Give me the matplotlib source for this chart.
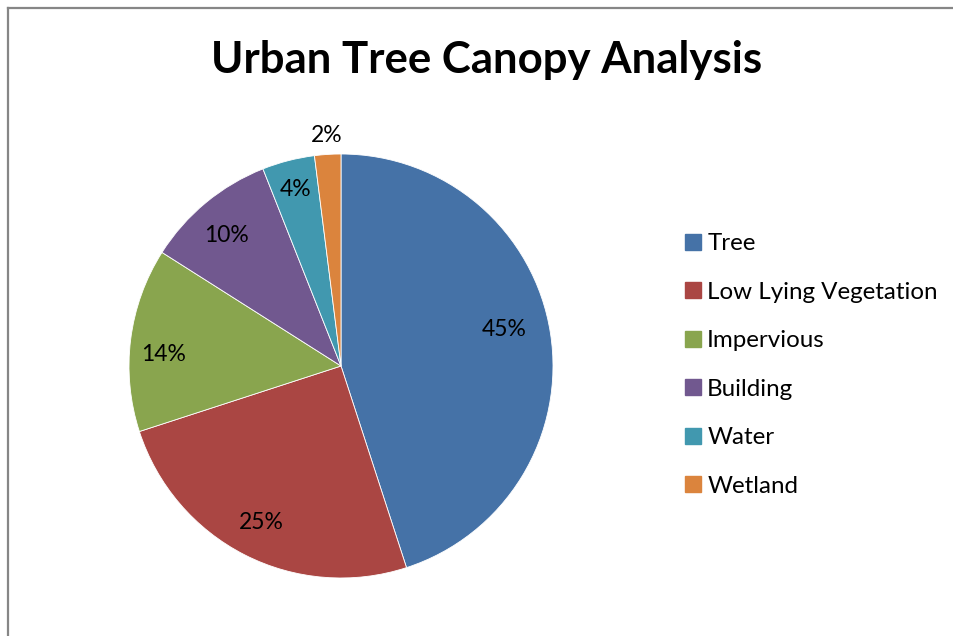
import numpy as np
import matplotlib.pyplot as plt
from matplotlib.lines import Line2D

plt.rcParams['font.family'] = ['Lato', 'DejaVu Sans']

categories = ["Tree", "Low Lying Vegetation", "Impervious", "Building", "Water", "Wetland"]
shares = [45, 25, 14, 10, 4, 2]
colors = ["#4572A7", "#AA4643", "#89A54E", "#71588F", "#4198AF", "#DB843D"]

W, H = 954, 636
fig = plt.figure(figsize=(W / 100, H / 100), dpi=100)

# pie centre and radius in pixels
cx, cy, r = 341, 366, 212
ax = fig.add_axes([(cx - r) / W, (H - cy - r) / H, 2 * r / W, 2 * r / H])

wedges, texts = ax.pie(
    shares, colors=colors, startangle=90, counterclock=False, radius=1,
    wedgeprops=dict(edgecolor="white", linewidth=0.6),
)
ax.set_xlim(-1, 1)
ax.set_ylim(-1, 1)
ax.set_aspect("equal")
ax.axis("off")

# percentage labels (excel "best fit" spots, slightly off the wedge middles)
dist = [0.79, 0.83, 0.84, 0.82, 0.86, 1.09]
shift = [3.5, 0, 3.5, 1.5, 0, 0]
for w, s, d, sh in zip(wedges, shares, dist, shift):
    mid = np.deg2rad((w.theta1 + w.theta2) / 2 + sh)
    ax.text(d * np.cos(mid), d * np.sin(mid), f"{s}%", ha="center", va="center",
            fontsize=16.5, color="black")

fig.text(487 / W, 1 - 60 / H, "Urban Tree Canopy Analysis", ha="center", va="center",
         fontsize=31.5, fontweight="bold")

handles = [Line2D([], [], marker="s", linestyle="", markersize=11,
                  markerfacecolor=c, markeredgecolor=c) for c in colors]
fig.legend(handles, categories, loc="center left", bbox_to_anchor=(671 / W, 1 - 365 / H),
           frameon=False, fontsize=17.4, handletextpad=0.1, labelspacing=1.14,
           handlelength=1.0, borderaxespad=0)

# chart border (left and top)
fig.add_artist(Line2D([8.5 / W, 8.5 / W], [0, 1 - 8 / H], color="#868686", linewidth=1.6))
fig.add_artist(Line2D([8 / W, 1], [1 - 8 / H, 1 - 8 / H], color="#868686", linewidth=1.6))

fig.savefig("out.png", dpi=100)
